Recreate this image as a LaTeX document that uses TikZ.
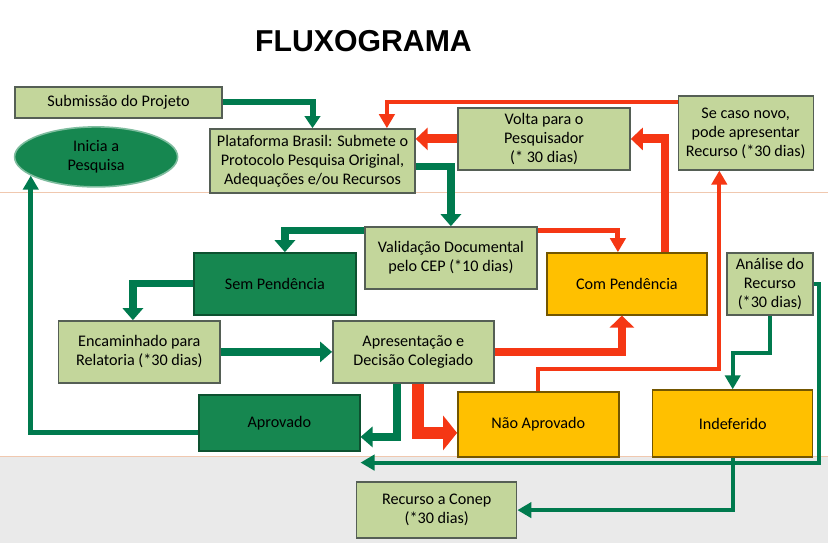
\documentclass[tikz,border=0pt]{standalone}
\usepackage{fontspec}
\setmainfont{Carlito}
\newfontfamily\titlefont{Liberation Sans}
\usetikzlibrary{positioning,calc,shapes,arrows.meta}
\definecolor{boxGreen}{RGB}{195,214,155}
\definecolor{boxDarkGreen}{RGB}{22,135,80}
\definecolor{boxYellow}{RGB}{255,192,0}
\definecolor{boxBorder}{RGB}{85,95,85}
\definecolor{lineGreen}{RGB}{0,122,78}
\definecolor{lineRed}{RGB}{245,55,20}
\definecolor{bgGray}{RGB}{234,234,234}
\definecolor{guideOrange}{RGB}{240,200,175}
\tikzset{
   papTitle/.style = {
         font=\titlefont\bfseries\fontsize{21.5}{24}\selectfont,
         inner sep = 0 pt,
      },
   papStart/.style = {
         ellipse,
         draw = boxDarkGreen!55!white,
         fill = boxDarkGreen,
         line width = 0.4mm,
         align = center,
         inner sep = 0 pt,
         font=\fontsize{11.5}{13.5}\selectfont,
         minimum width = 40.75mm,
         minimum height = 15mm,
      },
   papProcess/.style = {
         rectangle,
         draw = boxBorder,
         fill = boxGreen,
         line width = 0.35mm,
         align = center,
         inner sep = 2 pt,
         font=\fontsize{11.5}{13.5}\selectfont,
         minimum width = 40mm,
         minimum height = 15.5mm,
      },
   papResult/.style = {
         papProcess,
         draw = boxDarkGreen!60!black,
         fill = boxDarkGreen,
      },
   papPending/.style = {
         papProcess,
         draw = boxYellow!45!black,
         fill = boxYellow,
      },
   papLine/.style = {
         draw = lineGreen,
         line width = 1.8mm,
         -{Triangle[length=3mm,width=5mm]},
      },
   papLineThin/.style = {
         draw = lineGreen,
         line width = 1mm,
         -{Triangle[length=3.5mm,width=3.8mm]},
      },
   papLineNo/.style = {
         draw = lineRed,
         line width = 2.2mm,
         -{Triangle[length=3mm,width=5.5mm]},
      },
   papLineNoThin/.style = {
         draw = lineRed,
         line width = 1mm,
         -{Triangle[length=3.5mm,width=3.8mm]},
      },
}

\begin{document}
\begin{tikzpicture}[node distance = 2cm, auto]

% Background
\useasboundingbox (-29.625mm,25.625mm) rectangle (177.375mm,-110.125mm);
\fill [white] (-29.625mm,25.625mm) rectangle (177.375mm,-88.4mm);
\fill [bgGray] (-29.625mm,-88.4mm) rectangle (177.375mm,-110.125mm);
\draw [guideOrange, line width=0.3mm] (-29.625mm,-22.6mm) -- (177.375mm,-22.6mm);
\draw [guideOrange, line width=0.3mm] (-29.625mm,-88.4mm) -- (177.375mm,-88.4mm);

% Place nodes
\node [papProcess, minimum width=51.75mm, minimum height=7.75mm]
	(submissao){Submissão do Projeto};
\node [papTitle, above of =submissao, xshift=61.25mm, yshift=-4.6mm]
	(titulo){FLUXOGRAMA};

\node [papStart, below of =submissao, xshift=-5.6mm, yshift=6.4mm]
	(inicia){Inicia a\\Pesquisa};
\node [papProcess, right of =inicia, xshift=34.1mm, yshift=-1mm, minimum width=51.25mm, minimum height=16mm]
	(plataforma){Plataforma Brasil: Submete o\\Protocolo Pesquisa Original,\\Adequações e/ou Recursos};
\node [papProcess, right of =plataforma, xshift=37.9mm, yshift=5.5mm, minimum width=43mm]
	(volta){Volta para o\\Pesquisador\\(* 30 dias)};
\node [papProcess, right of =volta, xshift=30.4mm, yshift=1.5mm, minimum width=33.75mm, minimum height=18.5mm]
	(caso){Se caso novo,\\pode apresentar\\Recurso (*30 dias)};

\node [papProcess, below of =plataforma, xshift=34.6mm, yshift=-4.25mm, minimum width=43mm]
	(validacao){Validação Documental\\pelo CEP (*10 dias)};
\node [papResult, left of =validacao, xshift=-24mm, yshift=-6.5mm, minimum width=40.5mm]
	(sempend){Sem Pendência};
\node [papPending, right of =validacao, xshift=24mm, yshift=-6.5mm]
	(compend){Com Pendência};
\node [papProcess, right of =compend, xshift=15.75mm, minimum width=21.5mm]
	(analise){Análise do\\Recurso\\(*30 dias)};

\node [papProcess, below of =validacao, xshift=-9.4mm, yshift=-3.5mm, minimum width=40.25mm]
	(apresentacao){Apresentação e\\Decisão Colegiado};
\node [papProcess, left of =apresentacao, xshift=-48.5mm, minimum width=40.25mm]
	(encaminhado){Encaminhado para\\Relatoria (*30 dias)};

\node [papResult, below of =apresentacao, xshift=-33.5mm, yshift=2.25mm, minimum width=40.25mm, minimum height=14mm]
	(aprovado){Aprovado};
\node [papPending, right of =aprovado, xshift=44.75mm, yshift=-0.4mm, minimum width=40.25mm, minimum height=16.25mm]
	(naoaprovado){Não Aprovado};
\node [papPending, right of =naoaprovado, xshift=28.6mm, yshift=0.25mm, minimum height=16.75mm]
	(indeferido){Indeferido};

\node [papProcess, below of =naoaprovado, xshift=-25.4mm, yshift=-1.4mm, minimum height=14mm]
	(conep){Recurso a Conep\\(*30 dias)};

% Place joins
\coordinate (retorno) at ([yshift=-2.75mm]aprovado.south east);

% Draw edges
\path [papLine, line width=1.5mm, -{Triangle[length=3mm,width=3.8mm]}] (submissao.east) -| (plataforma.north);

\path [papLineNoThin] ([yshift=7.75mm]caso.west) -| ([xshift=18.6mm]plataforma.north);

\path [papLineNo] (volta.west) -- (volta.west -| plataforma.east);

\path [papLineNo] ([xshift=9.5mm]compend.north) |- (volta.east);

\path [papLine] ([yshift=-1.5mm]plataforma.east) -| (validacao.north);

\path [papLine] ([yshift=6.75mm]validacao.west) -| ([xshift=2.5mm]sempend.north);
\path [papLineNoThin, line width=1.25mm] ([yshift=6.75mm]validacao.east) -| ([xshift=-2.25mm]compend.north);

\path [papLine] (sempend.west) -| ([xshift=-1.6mm]encaminhado.north);

\path [papLine] (encaminhado.east) -- (apresentacao.west);

\path [papLine] ([xshift=-4.1mm]apresentacao.south) |- ([yshift=-3.5mm]aprovado.east);
\path [papLineNo, line width=3mm, -{Triangle[length=3.5mm,width=8.5mm]}] ([xshift=1.1mm]apresentacao.south) |- ([yshift=-2.1mm]naoaprovado.west);
\path [papLineNo, -{Triangle[length=3mm,width=6mm]}] (apresentacao.east) -| ([xshift=-1.25mm]compend.south);

\path [papLineNoThin] (naoaprovado.north) -- ++(0,5.5mm) -| ([xshift=-6.6mm]caso.south);

\path [papLineThin] (analise.south) -- ++(0,-9.25mm) -| (indeferido.north);
\path [papLineThin] (analise.east) -- ++(1.25mm,0) |- (retorno);

\path [papLineThin] (indeferido.south) |- (conep.east);

\path [papLineThin, line width=1.25mm] ([yshift=-2.5mm]aprovado.west) -| (inicia.196);

\end{tikzpicture}
\end{document}
